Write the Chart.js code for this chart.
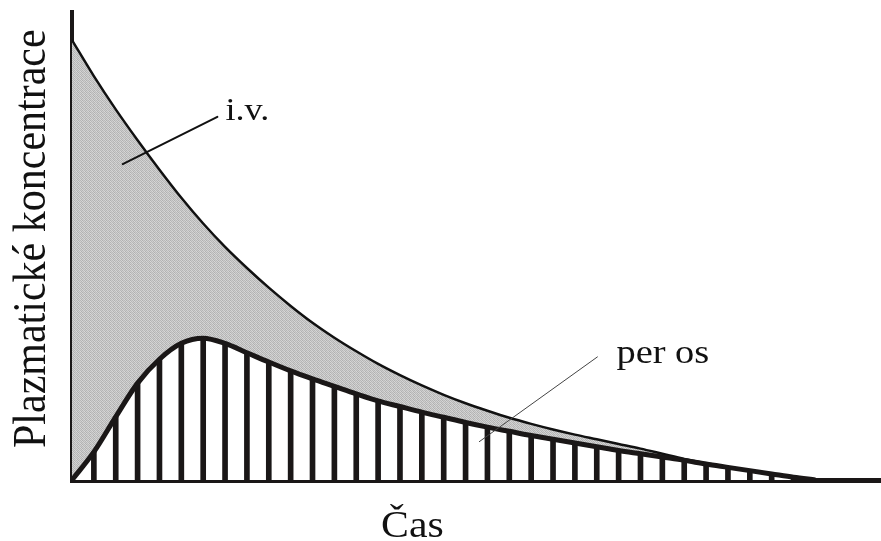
<!DOCTYPE html>
<html>
<head>
<meta charset="utf-8">
<script src="https://cdn.jsdelivr.net/npm/chart.js@4.4.1/dist/chart.umd.min.js"></script>
<style>
  body { margin: 0; background: #fff; }
  #wrap { width: 881px; height: 541px; }
</style>
</head>
<body>
<div id="wrap"><canvas id="chart" width="881" height="541"></canvas></div>
<script>
// time steps (arbitrary units), one bar per step
const timeSteps = [0, 1, 2, 3, 4, 5, 6, 7, 8, 9, 10, 11, 12, 13, 14, 15, 16, 17,
  18, 19, 20, 21, 22, 23, 24, 25, 26, 27, 28, 29, 30, 31, 32, 33, 34];
const ivValues = [94.0, 86.3, 79.2, 72.6, 66.3, 60.3, 54.8, 49.8, 45.3, 41.1, 37.2, 33.6,
  30.4, 27.5, 24.8, 22.4, 20.2, 18.2, 16.4, 14.8, 13.3, 12.0, 10.8, 9.7, 8.7, 7.7, 6.7,
  5.6, 4.5, 3.6, 2.8, 2.0, 1.3, 0.6, 0];
const perOsValues = [0, 6.0, 13.5, 20.7, 25.8, 29.2, 30.3, 29.2, 27.2, 25.2, 23.3, 21.6,
  20.0, 18.4, 16.9, 15.7, 14.5, 13.4, 12.3, 11.3, 10.4, 9.5, 8.7, 7.9, 7.1, 6.3, 5.6,
  4.9, 4.2, 3.4, 2.7, 2.0, 1.3, 0.6, 0];
const labelIv = 'i.v.';
const labelPerOs = 'per os';
const xTitle = 'Čas';
const yTitle = 'Plazmatické koncentrace';

const ink = '#1a1717';
const serif = '"Liberation Serif", "Times New Roman", serif';
const stretch = 1.13; // the scan is a bit wider than tall

function toPoints(vals) {
  return timeSteps.map((t, i) => ({ x: t, y: vals[i] }));
}

// light grey stipple like the original shading
function stipple() {
  const c = document.createElement('canvas');
  c.width = 4; c.height = 4;
  const g = c.getContext('2d');
  const tones = [0xb8, 0xd4, 0xb0, 0xcc, 0xd0, 0xb4, 0xd8, 0xb8,
    0xb8, 0xcc, 0xb4, 0xd4, 0xd8, 0xb0, 0xd0, 0xbc];
  tones.forEach((v, i) => {
    g.fillStyle = 'rgb(' + v + ',' + v + ',' + v + ')';
    g.fillRect(i % 4, Math.floor(i / 4), 1, 1);
  });
  return g.createPattern(c, 'repeat');
}

function stretchedText(ctx, text, x, y, size, rotate) {
  ctx.save();
  ctx.translate(x, y);
  if (rotate) {
    ctx.rotate(-Math.PI / 2);
    ctx.scale(1, stretch);
  } else {
    ctx.scale(stretch, 1);
  }
  ctx.font = size + 'px ' + serif;
  ctx.fillStyle = '#111';
  ctx.textAlign = 'left';
  ctx.textBaseline = 'alphabetic';
  ctx.fillText(text, 0, 0);
  ctx.restore();
}

const labels = {
  id: 'labels',
  afterDraw(chart) {
    const { ctx, scales: { x, y }, chartArea } = chart;
    const px = t => x.getPixelForValue(t);
    const py = v => y.getPixelForValue(v);

    ctx.save();
    ctx.lineCap = 'round';
    // leader for i.v.
    ctx.strokeStyle = '#111';
    ctx.lineWidth = 2;
    ctx.beginPath();
    ctx.moveTo(px(2.32), py(67.5));
    ctx.lineTo(px(6.65), py(77.6));
    ctx.stroke();
    // leader for per os
    ctx.strokeStyle = '#444';
    ctx.lineWidth = 1;
    ctx.beginPath();
    ctx.moveTo(px(18.63), py(8.2));
    ctx.lineTo(px(24.03), py(26.3));
    ctx.stroke();
    ctx.restore();

    stretchedText(ctx, labelIv, px(7.02), py(77.0), 32, false);
    stretchedText(ctx, labelPerOs, px(24.9), py(25.0), 34, false);
    stretchedText(ctx, xTitle, 381, 537, 37, false);
    stretchedText(ctx, yTitle, 45, chartArea.bottom - 32, 42, true);
  }
};

new Chart(document.getElementById('chart'), {
  type: 'line',
  data: {
    datasets: [{
      label: labelPerOs,
      data: toPoints(perOsValues),
      borderColor: ink,
      borderWidth: 5,
      backgroundColor: '#fff',
      fill: 'origin',
      pointRadius: 0,
      cubicInterpolationMode: 'monotone'
    }, {
      type: 'bar',
      label: 'per os bars',
      data: toPoints(perOsValues).slice(1, 34),
      backgroundColor: ink,
      barThickness: 5
    }, {
      label: labelIv,
      data: toPoints(ivValues),
      borderColor: '#111',
      borderWidth: 2.5,
      backgroundColor: stipple(),
      fill: 'origin',
      pointRadius: 0,
      cubicInterpolationMode: 'monotone'
    }]
  },
  options: {
    responsive: false,
    animation: false,
    events: [],
    layout: { padding: { left: 72, right: 0, top: 12, bottom: 61 } },
    plugins: {
      legend: { display: false },
      tooltip: { enabled: false },
      filler: { drawTime: 'beforeDatasetsDraw' }
    },
    scales: {
      x: {
        type: 'linear',
        min: 0,
        max: 37,
        offset: false,
        z: 1,
        grid: { display: false },
        ticks: { display: false },
        border: { display: true, color: ink, width: 5 },
        afterFit: s => { s.height = 0; }
      },
      y: {
        min: 0,
        max: 100,
        z: 1,
        grid: { display: false },
        ticks: { display: false },
        border: { display: true, color: ink, width: 4 },
        afterFit: s => { s.width = 0; }
      }
    }
  },
  plugins: [labels]
});
</script>
</body>
</html>
